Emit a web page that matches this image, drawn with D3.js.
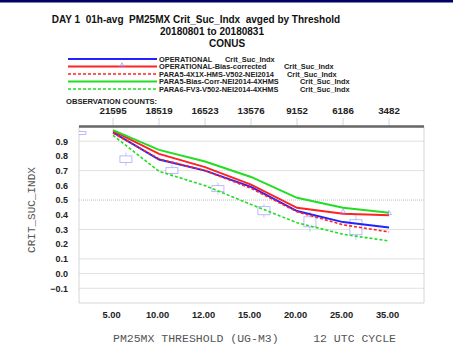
<!DOCTYPE html>
<html><head><meta charset="utf-8">
<script src="https://cdn.jsdelivr.net/npm/d3@7"></script>
<style>body{margin:0;background:#fff}svg{display:block}</style>
</head><body>
<script>
const thresholds = ["5.00","10.00","12.00","15.00","20.00","25.00","35.00"];
const counts = ["21595","18519","16523","13576","9152","6186","3482"];
const operational = [0.96,0.775,0.70,0.59,0.425,0.35,0.313];
const opBiasCorr = [0.97,0.814,0.724,0.605,0.447,0.407,0.397];
const para5 = [0.955,0.78,0.70,0.58,0.42,0.332,0.283];
const para5Bias = [0.975,0.841,0.762,0.657,0.515,0.447,0.414];
const para6 = [0.94,0.695,0.598,0.47,0.346,0.267,0.222];
const boxQ1 = [0.945,0.755,0.68,0.557,0.40,0.318,0.264];
const boxQ3 = [0.966,0.80,0.72,0.598,0.455,0.386,0.366];
const boxLo = [0.94,0.734,0.659,0.536,0.38,0.284,0.23];
const boxHi = [0.97,0.823,0.741,0.618,0.475,0.42,0.40];
const yTicks = [0.9,0.8,0.7,0.6,0.5,0.4,0.3,0.2,0.1,0.0,-0.1];
const gridVals = [0.9,0.7,0.3,0.1,0.0,-0.1];
const seriesNames = ["OPERATIONAL","OPERATIONAL-Bias-corrected","PARA5-4X1X-HMS-V502-NEI2014","PARA5-Bias-Corr-NEI2014-4XHMS","PARA6-FV3-V502-NEI2014-4XHMS"];

const W=453,H=354;
const svg=d3.select("body").append("svg").attr("width",W).attr("height",H);
const x=d3.scaleLinear().domain([0.26,7.76]).range([79,424]);
const y=d3.scaleLinear().domain([-0.2,1.0]).range([303,126.5]);
const idx=d3.range(1,8);

svg.append("rect").attr("x",0).attr("y",0).attr("width",W).attr("height",2.5).attr("fill","#000066");

const bold="'Liberation Sans',Arial,sans-serif";
const mono="'Liberation Mono','DejaVu Sans Mono',monospace";
// titles
const titles=[["DAY 1  01h-avg  PM25MX Crit_Suc_Indx  avged by Threshold",196,23],["20180801 to 20180831",212,35],["CONUS",227,47]];
titles.forEach(t=>svg.append("text").attr("x",t[1]).attr("y",t[2]).attr("text-anchor","middle")
  .attr("font-family",bold).attr("font-weight","bold").attr("font-size",10).attr("fill","#111").attr("xml:space","preserve").style("white-space","pre").text(t[0]));

// legend
const series=[
 {v:operational,c:"#2222ff",d:null,name:seriesNames[0],cx:225},
 {v:opBiasCorr,c:"#ff2222",d:null,name:seriesNames[1],cx:284},
 {v:para5,c:"#ff2222",d:"3,2",name:seriesNames[2],cx:287},
 {v:para5Bias,c:"#22dd22",d:null,name:seriesNames[3],cx:300},
 {v:para6,c:"#22dd22",d:"3,2",name:seriesNames[4],cx:300}];
const legY=[59,66.5,74,81.5,89];
series.forEach((s,i)=>{
  svg.append("line").attr("x1",68).attr("x2",157).attr("y1",legY[i]).attr("y2",legY[i])
    .attr("stroke",s.c).attr("stroke-width",s.d?1.5:2).attr("stroke-dasharray",s.d);
  svg.append("text").attr("x",159).attr("y",legY[i]+2.6).attr("font-family",bold).attr("font-size",7.4).attr("font-weight","bold").attr("fill","#222").text(s.name);
  svg.append("text").attr("x",s.cx).attr("y",legY[i]+2.6).attr("font-family",bold).attr("font-size",7.4).attr("font-weight","bold").attr("fill","#222").text("Crit_Suc_Indx");
});
svg.append("path").attr("d",d3.symbol(d3.symbolTriangle,10)()).attr("transform","translate(122,65.5)").attr("fill","none").attr("stroke","#a080ff").attr("stroke-width",0.7);

svg.append("text").attr("x",66).attr("y",103.5).attr("font-family",bold).attr("font-weight","bold").attr("font-size",7.6).attr("fill","#222").text("OBSERVATION COUNTS:");
idx.forEach((k,i)=>{
  svg.append("text").attr("transform",`translate(${x(k)},113.5) scale(1.15,1)`).attr("text-anchor","middle").attr("font-family",bold).attr("font-weight","bold").attr("font-size",8.5).attr("fill","#222").text(counts[i]);
  svg.append("line").attr("x1",x(k)).attr("x2",x(k)).attr("y1",118).attr("y2",126).attr("stroke","#ccc").attr("stroke-width",0.8);
});

// grid
gridVals.forEach(v=>svg.append("line").attr("x1",79).attr("x2",424).attr("y1",y(v)).attr("y2",y(v)).attr("stroke","#d8d8d8").attr("stroke-width",0.8));
svg.append("line").attr("x1",79).attr("x2",424).attr("y1",y(0.5)).attr("y2",y(0.5)).attr("stroke","#aaa").attr("stroke-width",0.8).attr("stroke-dasharray","1,1");
// frame
svg.append("path").attr("d",`M79,${y(1)}V303H424V${y(1)}`).attr("fill","none").attr("stroke","#ccc").attr("stroke-width",0.8);
svg.append("line").attr("x1",79).attr("x2",424).attr("y1",y(1)).attr("y2",y(1)).attr("stroke","#666").attr("stroke-width",2.5);

// y ticks
yTicks.forEach(v=>svg.append("text").attr("x",68).attr("y",y(v)+3.3).attr("text-anchor","end").attr("font-family",bold).attr("font-weight","bold").attr("font-size",9).attr("fill","#222").text(v===0?"0.0":d3.format(".1f")(v).replace("-","\u2212")));
// x ticks
idx.forEach((k,i)=>svg.append("text").attr("x",x(k)-1.5).attr("y",318).attr("text-anchor","middle").attr("font-family",bold).attr("font-weight","bold").attr("font-size",9.3).attr("fill","#222").text(thresholds[i]));

svg.append("text").attr("x",113).attr("y",342).attr("font-family",mono).attr("font-size",11.5).attr("fill","#555").attr("xml:space","preserve").style("white-space","pre").text("PM25MX THRESHOLD (UG-M3)     12 UTC CYCLE");
svg.append("text").attr("transform","translate(35,210) rotate(-90)").attr("text-anchor","middle").attr("font-family",mono).attr("font-size",11).attr("fill","#555").text("CRIT_SUC_INDX");

// boxes
svg.append("clipPath").attr("id","pc").append("rect").attr("x",79).attr("y",y(1)).attr("width",345).attr("height",303-y(1));
const bg=svg.append("g").attr("clip-path","url(#pc)");
idx.forEach((k,i)=>{
  const bx=x(k-0.72);
  bg.append("line").attr("x1",bx).attr("x2",bx).attr("y1",y(boxHi[i])).attr("y2",y(boxLo[i])).attr("stroke","#b8b8ff").attr("stroke-width",0.8);
  bg.append("rect").attr("x",bx-6).attr("y",y(boxQ3[i])).attr("width",12).attr("height",y(boxQ1[i])-y(boxQ3[i])).attr("fill","#fff").attr("stroke","#aaaaff").attr("stroke-width",0.8);
});

// lines
const line=d3.line().x((d,i)=>x(i+1)).y(d=>y(d));
series.forEach(s=>svg.append("path").datum(s.v).attr("d",line).attr("fill","none").attr("stroke",s.c).attr("stroke-width",s.d?1.6:2).attr("stroke-dasharray",s.d));
[5,6].forEach(i=>svg.append("path").attr("d",d3.symbol(d3.symbolTriangle,10)()).attr("transform",`translate(${x(i+1)},${y(opBiasCorr[i])-2})`).attr("fill","none").attr("stroke","#a080ff").attr("stroke-width",0.6));
</script>
</body></html>
